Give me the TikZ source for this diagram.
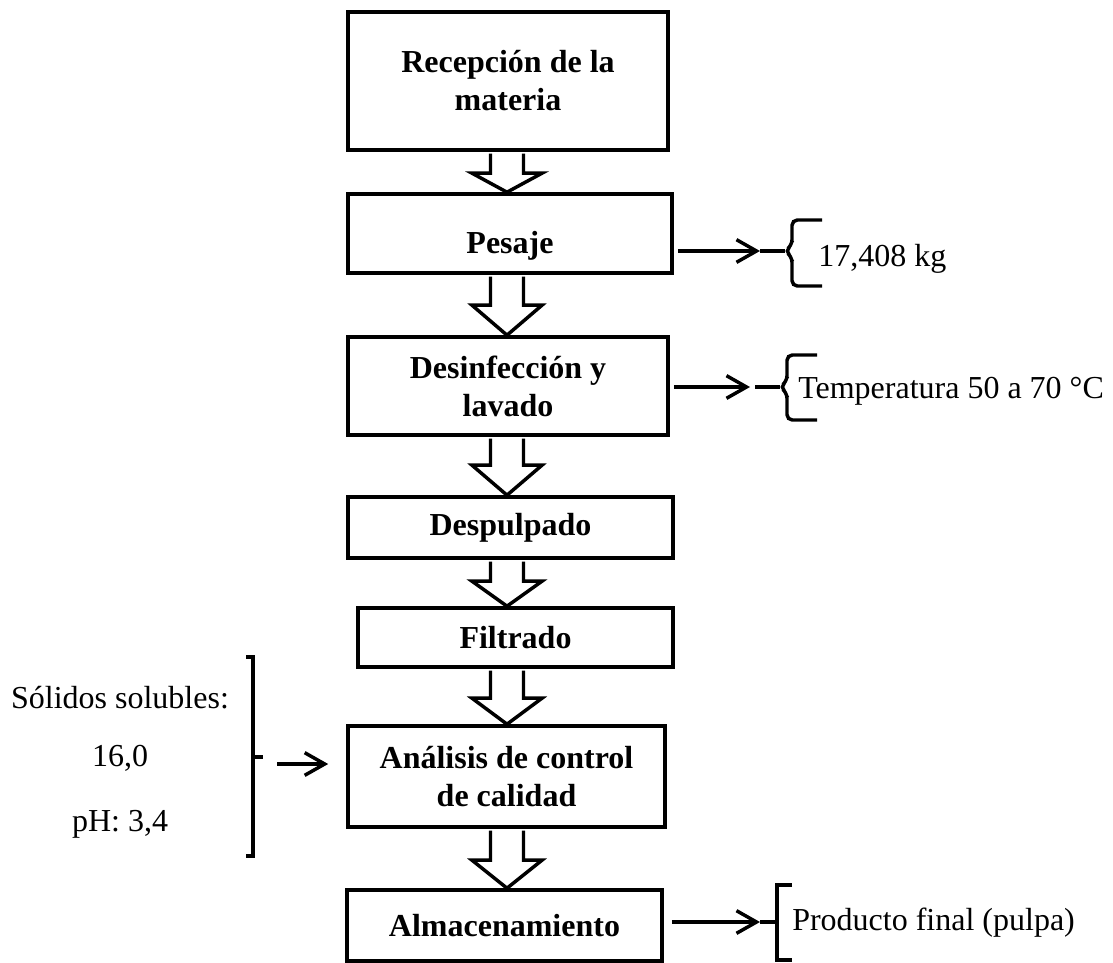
\documentclass[tikz,border=0pt]{standalone}
\usepackage{fontspec}
\setmainfont{Liberation Serif}
\usetikzlibrary{arrows.meta,calc}

% hollow block arrow from the bottom of one box to the top of the next
% #1 upper box, #2 lower box, #3 length of the head
\newcommand\blockarrow[3]{%
  \draw[flowarrow]
    ($(axis |- #1.south)+(-16.5,1.8)$) --
    ($(axis |- #2.north)+(-16.5,-#3)$) --
    ($(axis |- #2.north)+(-35,-#3)$) --
    (axis |- #2.north) --
    ($(axis |- #2.north)+(35,-#3)$) --
    ($(axis |- #2.north)+(16.5,-#3)$) --
    ($(axis |- #1.south)+(16.5,1.8)$);}

\begin{document}
\begin{tikzpicture}[x=0.75pt,y=-0.75pt,
  stepbox/.style={draw,line width=2.7pt,inner sep=0pt,align=center,
    font=\fontsize{24}{28.5}\selectfont\bfseries},
  steplabel/.style={inner sep=0pt,font=\fontsize{24}{28.5}\selectfont\bfseries},
  flowarrow/.style={draw,fill=white,line width=2.6pt,line join=miter},
  sidearrow/.style={line width=2.6pt,-{Straight Barb[length=15pt,width=17pt]}},
  bracketline/.style={line width=2.6pt},
  note/.style={inner sep=0pt,font=\fontsize{24}{28.5}\selectfont}]

\fill[white] (0,0) rectangle (1113,963);
\useasboundingbox (0,0) rectangle (1113,963);

% process steps
\node[stepbox,minimum width=240pt,minimum height=103.5pt] (recepcion) at (508,81)
  {Recepción de la\\materia};
\node[stepbox,minimum width=243pt,minimum height=59.25pt] (pesaje) at (510,233.5) {};
\node[steplabel] at (510,246) {Pesaje};
\node[stepbox,minimum width=240pt,minimum height=73.5pt] (desinf) at (508,386)
  {Desinfección y\\lavado};
\node[stepbox,minimum width=243.75pt,minimum height=45.75pt] (despulpado) at (510.5,527.5)
  {Despulpado};
\node[stepbox,minimum width=236.25pt,minimum height=44.25pt] (filtrado) at (515.5,637.5)
  {Filtrado};
\node[stepbox,minimum width=237.75pt,minimum height=75.75pt] (analisis) at (506.5,776.5)
  {Análisis de control\\de calidad};
\node[stepbox,minimum width=236.25pt,minimum height=53.25pt] (almac) at (504.5,925.5)
  {Almacenamiento};

% flow between the steps
\coordinate (axis) at (507,0);
\blockarrow{recepcion}{pesaje}{19}
\blockarrow{pesaje}{desinf}{30}
\blockarrow{desinf}{despulpado}{30}
\blockarrow{despulpado}{filtrado}{25}
\blockarrow{filtrado}{analisis}{26}
\blockarrow{analisis}{almac}{28}

% weighing result
\node[note,anchor=base west] (kg) at (818,266) {17,408 kg};
\coordinate (kgin) at (760,251);
\draw[sidearrow] ($(pesaje.east |- kgin)+(4,0)$) -- (kgin);
\draw[bracketline] (kgin) -- (785,251);
\draw[bracketline,rounded corners=4pt]
  (822,220) -- (792,220) -- (792,245) -- (785,251) -- (792,257) -- (792,286) -- (822,286);

% washing temperature
\node[note,anchor=base west] (temp) at (798,398) {Temperatura 50 a 70 °C};
\coordinate (tempin) at (750,387);
\draw[sidearrow] ($(desinf.east |- tempin)+(4,0)$) -- (tempin);
\draw[bracketline] (755,387) -- (780,387);
\draw[bracketline,rounded corners=4pt]
  (817,355) -- (787,355) -- (787,381) -- (780,387) -- (787,393) -- (787,420) -- (817,420);

% final product
\node[note,anchor=base west] (prod) at (792,930) {Producto final (pulpa)};
\coordinate (prodin) at (760,922);
\draw[sidearrow] ($(almac.east |- prodin)+(8,0)$) -- (prodin);
\draw[bracketline] (prodin) -- (777,922);
\draw[bracketline] (792,885) -- (777,885) -- (777,960) -- (792,960);

% quality control data
\node[note,anchor=base] (sol) at (120,708) {Sólidos solubles:};
\node[note,anchor=base] (brix) at (120,766) {16,0};
\node[note,anchor=base] (ph) at (120,831) {pH: 3,4};
\draw[bracketline] (246,657) -- (253,657) -- (253,856) -- (246,856);
\draw[bracketline] (253,757) -- (263,757);
\coordinate (qcout) at (277,764);
\draw[sidearrow] (qcout) -- ($(analisis.west |- qcout)+(-18,0)$);
\end{tikzpicture}
\end{document}
